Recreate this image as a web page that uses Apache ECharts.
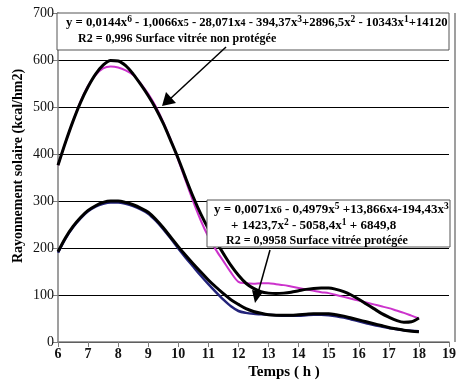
<!DOCTYPE html>
<html>
<head>
<meta charset="utf-8">
<script src="https://cdn.jsdelivr.net/npm/echarts@6/dist/echarts.min.js"></script>
<style>html,body{margin:0;padding:0;background:#fff}#c{width:459px;height:385px}</style>
</head>
<body>
<div id="c"></div>
<script>
// ---- data ----
const hours = [6,6.25,6.5,6.75,7,7.25,7.5,7.75,8,8.25,8.5,8.75,9,9.25,9.5,9.75,10,10.25,10.5,10.75,11,11.25,11.5,11.75,12,
  12.25,12.5,12.75,13,13.25,13.5,13.75,14,14.25,14.5,14.75,15,15.25,15.5,15.75,16,16.25,16.5,16.75,17,17.25,17.5,17.75,18];
const fitNonProtected = [376,425,470,510,543,570,589,599,598,588,570,548,524,497,465,428,390,348,308,272,241,214,188,163,142,
  125,114,107,104,103,104,106,109,112,114,115,115,112,107,100,91,81,71,61,53,46,42,43,51];
const measNonProtected = [376,425,470,512,545,568,582,586,584,578,568,550,528,501,468,430,387,342,298,258,224,196,172,148,128,
  125,124,125,125,123,121,118,115,112,109,106,104,100,96,92,88,84,80,76,72,67,62,56,50];
const fitProtected = [192,222,246,265,280,290,297,300,300,297,292,285,276,261,243,223,203,184,166,149,132,117,103,90,80,
  71,65,61,58,57,57,57,58,59,60,60,60,58,55,51,47,43,39,35,31,28,25,23,22];
const measProtected = [190,220,244,263,278,288,294,297,297,294,289,282,273,258,240,220,199,179,160,141,123,106,90,76,66,
  62,60,59,58,57,56,56,56,57,58,58,57,55,52,48,44,40,36,33,30,27,25,24,23];
const yTicks = [0,100,200,300,400,500,600,700];
const xTicks = [6,7,8,9,10,11,12,13,14,15,16,17,18,19];

const pair = (xs, ys) => xs.map((x, i) => [x, ys[i]]);
const SERIF = '"Liberation Serif","Times New Roman",serif';

const chart = echarts.init(document.getElementById('c'), null, {renderer: 'canvas'});

const sup = {fontSize: 9.5, fontWeight: 'bold', fontFamily: SERIF, verticalAlign: 'top', padding: [0,0,5,0]};
const small = {fontSize: 10, fontWeight: 'bold', fontFamily: SERIF, padding: [2,0,0,0]};

chart.setOption({
  animation: false,
  backgroundColor: '#fff',
  grid: {left: 58, right: 4, top: 13, bottom: 43},
  xAxis: {
    type: 'value', min: xTicks[0], max: xTicks[xTicks.length-1], interval: 1,
    axisLine: {lineStyle: {color: '#7f7f7f', width: 1.5}},
    axisTick: {show: true, length: 5, lineStyle: {color: '#7f7f7f'}},
    axisLabel: {color: '#111', fontFamily: SERIF, fontWeight: 'bold', fontSize: 14, margin: 5},
    splitLine: {show: false}
  },
  yAxis: {
    type: 'value', min: yTicks[0], max: yTicks[yTicks.length-1], interval: 100,
    axisLine: {show: true, lineStyle: {color: '#7f7f7f', width: 1.5}},
    axisTick: {show: true, length: 5, lineStyle: {color: '#7f7f7f'}},
    axisLabel: {color: '#111', fontFamily: SERIF, fontSize: 14, margin: 4},
    splitLine: {show: true, lineStyle: {color: '#000', width: 1}}
  },
  series: [
    {type: 'line', data: pair(hours, measNonProtected), smooth: 0.3, symbol: 'none', z: 2,
     lineStyle: {color: '#cc33cc', width: 2}},
    {type: 'line', data: pair(hours, measProtected), smooth: 0.3, symbol: 'none', z: 2,
     lineStyle: {color: '#23237a', width: 2.5}},
    {type: 'line', data: pair(hours, fitNonProtected), smooth: 0.3, symbol: 'none', z: 3,
     lineStyle: {color: '#000', width: 3}},
    {type: 'line', data: pair(hours, fitProtected), smooth: 0.3, symbol: 'none', z: 3,
     lineStyle: {color: '#000', width: 3}}
  ],
  graphic: [
    // right border of plot
    {type: 'line', z: 10, shape: {x1: 455, y1: 13, x2: 455, y2: 342}, style: {stroke: '#7f7f7f', lineWidth: 1.5}},
    // top annotation box
    {type: 'rect', z: 20, shape: {x: 57, y: 13, width: 392, height: 37}, style: {fill: '#fff', stroke: '#555', lineWidth: 1}},
    {type: 'text', z: 21, left: 66, top: 15, style: {
      text: 'y = 0,0144x{s|6} - 1,0066x{m|5} - 28,071x{m|4} - 394,37x{s|3}+2896,5x{s|2} - 10343x{s|1}+14120',
      font: 'bold 12.7px ' + SERIF, fill: '#000', rich: {s: sup, m: small}}},
    {type: 'text', z: 21, left: 78, top: 33, style: {
      text: 'R2 = 0,996 Surface vitrée non protégée', font: 'bold 12px ' + SERIF, fill: '#000'}},
    // arrow 1
    {type: 'line', z: 21, shape: {x1: 226, y1: 47, x2: 170, y2: 99}, style: {stroke: '#000', lineWidth: 1.5}},
    {type: 'polygon', z: 21, shape: {points: [[162,106],[166,92],[176,103]]}, style: {fill: '#000'}},
    // lower annotation box
    {type: 'rect', z: 20, shape: {x: 207, y: 200, width: 243, height: 47}, style: {fill: '#fff', stroke: '#555', lineWidth: 1}},
    {type: 'text', z: 21, left: 214, top: 202, style: {
      text: 'y = 0,0071x{m|6} - 0,4979x{s|5} +13,866x{m|4}-194,43x{s|3}',
      font: 'bold 13px ' + SERIF, fill: '#000', rich: {s: sup, m: small}}},
    {type: 'text', z: 21, left: 231, top: 218, style: {
      text: '+ 1423,7x{s|2} - 5058,4x{s|1} + 6849,8',
      font: 'bold 13px ' + SERIF, fill: '#000', rich: {s: sup, m: small}}},
    {type: 'text', z: 21, left: 226, top: 235, style: {
      text: 'R2 = 0,9958 Surface vitrée protégée', font: 'bold 12px ' + SERIF, fill: '#000'}},
    // arrow 2
    {type: 'line', z: 21, shape: {x1: 270, y1: 250, x2: 258, y2: 293}, style: {stroke: '#000', lineWidth: 1.5}},
    {type: 'polygon', z: 21, shape: {points: [[255,303],[252,290],[263,292]]}, style: {fill: '#000'}},
    // axis names
    {type: 'text', z: 21, x: 284, top: 365, style: {
      text: 'Temps ( h )', font: 'bold 15px ' + SERIF, fill: '#000', textAlign: 'center'}},
    {type: 'text', z: 21, x: 18, y: 166, rotation: Math.PI / 2, style: {
      text: 'Rayonnement solaire (kcal/hm2)', font: 'bold 14px ' + SERIF, fill: '#000',
      textAlign: 'center', textVerticalAlign: 'middle'}}
  ]
});
</script>
</body>
</html>
